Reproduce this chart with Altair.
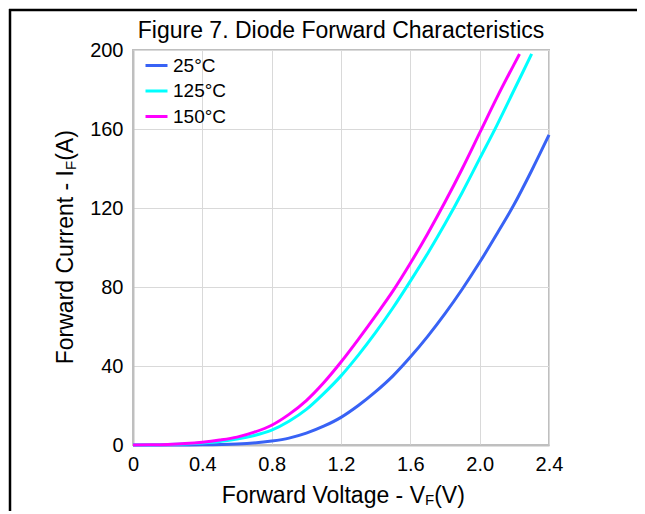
import altair as alt
import pandas as pd

# ---- data ----
series_names = ["25°C", "125°C", "150°C"]
series_colors = ["#3862f5", "#00ffff", "#ff00ff"]

volts_25 = [0.0, 0.2, 0.4, 0.6, 0.8, 0.9, 1.0, 1.1, 1.2, 1.3, 1.4, 1.5, 1.6, 1.7,
            1.8, 1.9, 2.0, 2.1, 2.2, 2.3, 2.4]
amps_25 = [0.0, 0.02, 0.1, 0.5, 2.0, 3.5, 6.0, 9.5, 14.0, 20.0, 27.0, 35.0, 44.5,
           55.0, 66.5, 79.0, 92.5, 107.0, 122.0, 139.0, 157.0]

volts_125 = [0.0, 0.1, 0.2, 0.3, 0.4, 0.5, 0.6, 0.7, 0.8, 0.9, 1.0, 1.1, 1.2, 1.3,
             1.4, 1.5, 1.6, 1.7, 1.8, 1.9, 2.0, 2.1, 2.2, 2.3]
amps_125 = [0.0, 0.05, 0.2, 0.5, 1.0, 1.8, 3.0, 4.8, 7.5, 12.0, 18.0, 26.0, 35.0,
            45.5, 57.0, 69.5, 83.0, 97.0, 112.0, 128.0, 145.0, 162.0, 180.0, 198.0]

volts_150 = [0.0, 0.1, 0.2, 0.3, 0.4, 0.5, 0.6, 0.7, 0.8, 0.9, 1.0, 1.1, 1.2, 1.3,
             1.4, 1.5, 1.6, 1.7, 1.8, 1.9, 2.0, 2.1, 2.2, 2.23]
amps_150 = [0.0, 0.1, 0.3, 0.7, 1.4, 2.5, 4.0, 6.5, 10.0, 15.5, 22.5, 31.5, 42.0,
            53.5, 65.5, 78.0, 92.0, 107.0, 123.0, 140.0, 158.0, 176.0, 193.0, 198.0]

x_ticks = [0, 0.4, 0.8, 1.2, 1.6, 2.0, 2.4]
y_ticks = [0, 40, 80, 120, 160, 200]

chart_title = "Figure 7. Diode Forward Characteristics"
x_title_main, x_title_sub, x_title_end = "Forward Voltage - V", "F", "(V)"
y_title_main, y_title_sub, y_title_end = "Forward Current - I", "F", "(A)"

rows = []
for name, vs, a_s in zip(series_names, [volts_25, volts_125, volts_150],
                         [amps_25, amps_125, amps_150]):
    for i, (v, a) in enumerate(zip(vs, a_s)):
        rows.append({"series": name, "V": v, "I": a, "k": i})
df = pd.DataFrame(rows)

FONT = "Liberation Sans"
W, H = 416, 395

lines = alt.Chart(df).mark_line(strokeWidth=3, interpolate="monotone").encode(
    x=alt.X("V:Q",
            scale=alt.Scale(domain=[0, 2.4], nice=False, zero=False),
            axis=alt.Axis(values=x_ticks, title=None, labelFlush=False,
                          labelExpr="datum.value == 0 ? '0' : format(datum.value, '.1f')",
                          labelPadding=9)),
    y=alt.Y("I:Q",
            scale=alt.Scale(domain=[0, 200], nice=False),
            axis=alt.Axis(values=y_ticks, title=None, labelFlush=False,
                          labelPadding=10)),
    color=alt.Color("series:N",
                    scale=alt.Scale(domain=series_names, range=series_colors),
                    legend=alt.Legend(title=None, orient="none", legendX=11, legendY=3,
                                      symbolType="stroke", symbolSize=484,
                                      symbolStrokeWidth=3, labelFontSize=19,
                                      labelFont=FONT, labelColor="black",
                                      labelExpr="datum.label == '25°C' ? '\u00a025°C' : datum.label",
                                      labelOffset=4, rowPadding=2.5, padding=0)),
    order=alt.Order("k:Q"),
)

one = alt.Data(values=[{"a": 1}])


def label(text, size, x, y, align, angle=0):
    return alt.Chart(one).mark_text(
        text=text, font=FONT, fontSize=size, color="black", align=align,
        baseline="alphabetic", angle=angle
    ).encode(x=alt.value(x), y=alt.value(y))


# chart title
title_mark = label(chart_title, 23, W / 2, -12.5, "center")
# x axis title with subscript
x_main = label(x_title_main, 23, 292, 452.5, "right")
x_sub = label(x_title_sub, 15, 292, 455, "left")
x_end = label(x_title_end, 23, 301.2, 452.5, "left")
# y axis title (rotated) with subscript
y_main = label(y_title_main, 23, -60, 120, "right", 270)
y_sub = label(y_title_sub, 15, -57.5, 120, "left", 270)
y_end = label(y_title_end, 23, -60, 110.8, "left", 270)

border_left = alt.Chart(one).mark_rule(color="black", strokeWidth=2.5).encode(
    x=alt.value(-123), y=alt.value(-41), y2=alt.value(480))
border_top = alt.Chart(one).mark_rule(color="black", strokeWidth=2.5).encode(
    x=alt.value(-124), x2=alt.value(520), y=alt.value(-40))

chart = alt.layer(
    lines, border_left, border_top, title_mark,
    x_main, x_sub, x_end, y_main, y_sub, y_end
).properties(
    width=W, height=H,
    autosize=alt.AutoSizeParams(type="none"),
    padding={"left": 125, "top": 42, "right": 88, "bottom": 66},
).configure_view(
    stroke="#bfbfbf", strokeWidth=2
).configure_axis(
    domainColor="#bfbfbf", domainWidth=2, gridColor="#d9d9d9", gridWidth=1,
    ticks=False, labelFont=FONT, labelFontSize=20, labelColor="black",
)

chart.save("out.html", embed_options={"renderer": "svg", "actions": False})
